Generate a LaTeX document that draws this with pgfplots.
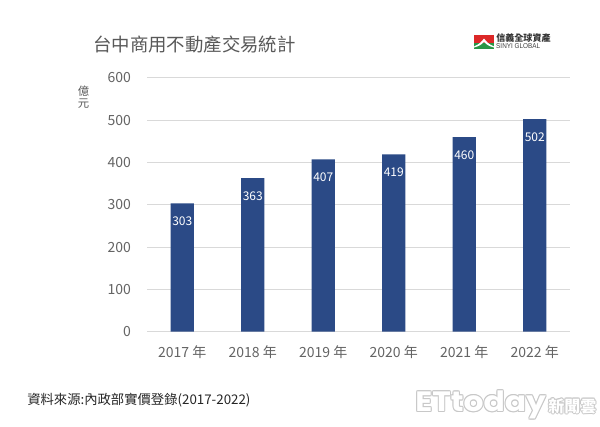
\documentclass[border=0pt]{standalone}
\usepackage{fontspec}
\setmainfont{Noto Sans CJK TC}
\newfontfamily\latinfont{Liberation Sans}
\newfontfamily\etfont{Poppins}[UprightFont=* Bold]
\usepackage{pgfplots}
\pgfplotsset{compat=1.18}
\definecolor{barblue}{RGB}{43,74,134}
\definecolor{txtgray}{RGB}{89,89,89}
\definecolor{tickgray}{RGB}{100,100,100}
\definecolor{gridgray}{RGB}{217,217,217}
\definecolor{logored}{RGB}{220,40,40}
\definecolor{logogreen}{RGB}{40,150,70}
\definecolor{wmgray}{RGB}{200,200,200}
\begin{document}
\begin{tikzpicture}[x=0.75pt,y=-0.75pt]
\path[use as bounding box, fill=white] (0,0) rectangle (600,426);
\begin{axis}[
  at={(110.25pt,-248.8pt)}, anchor=south west,
  scale only axis, width=317.25pt, height=190.5pt,
  xmin=-0.5, xmax=5.5, ymin=0, ymax=600,
  ytick={0,100,200,300,400,500,600},
  xtick=data,
  xticklabels={2017 年,2018 年,2019 年,2020 年,2021 年,2022 年},
  major tick length=0pt,
  axis line style={draw=none},
  ymajorgrids, grid style={gridgray, line width=0.8pt},
  /pgf/number format/assume math mode=true,
  tick label style={font=\fontsize{10.5}{12}\selectfont, text=tickgray},
  yticklabel style={xshift=-8.5pt},
  xticklabel style={yshift=-7pt},
  ybar, bar width=17.5pt,
  nodes near coords,
  every node near coord/.append style={font=\fontsize{9}{10}\selectfont, text=white, anchor=center, yshift=-13.5pt},
  clip=false,
]
\addplot[fill=barblue, draw=none] coordinates {(0,303) (1,363) (2,407) (3,419) (4,460) (5,502)};
\end{axis}
% y label stacked
\node[text=txtgray, font=\fontsize{8.5}{10}\selectfont, align=center, inner sep=0pt] at (83.5,97) {億\\[-1pt]元};
% title
\node[anchor=west, text=txtgray, font=\fontsize{13.8}{16}\selectfont, inner sep=0pt] at (93,45) {台中商用不動產交易統計};
% logo
\fill[logored] (474,35) rectangle (494,43);
\fill[logogreen] (474,43) rectangle (494,49);
\fill[white] (474,46.5) .. controls (480,44) and (482,41) .. (484,38.5) .. controls (486,41) and (488,44) .. (494,46.5) -- (494,47.5) .. controls (488,46) and (486,44) .. (484,42) .. controls (482,44) and (480,46) .. (474,47.5) -- cycle;
\node[anchor=west, inner sep=0pt, text=black!80, font=\fontsize{6.8}{7}\selectfont\bfseries] at (496,38.5) {信義全球資產};
\node[anchor=west, inner sep=0pt, text=black!75, font=\latinfont\fontsize{5.3}{6}\selectfont, xscale=0.9] at (496,46) {SINYI GLOBAL};
% source
\node[anchor=west, inner sep=0pt, text=black!85, font=\fontsize{10}{12}\selectfont] at (27,400) {資料來源:內政部實價登錄(2017-2022)};
% watermark
\foreach \dx/\dy in {-1/0,1/0,0/-1,0/1,-0.7/-0.7,0.7/0.7,-0.7/0.7,0.7/-0.7}{
  \node[anchor=west, inner sep=0pt, text=wmgray, font=\etfont\fontsize{21}{22}\selectfont, xscale=1.12] at (415+\dx,405+\dy) {ETtoday};
  \node[anchor=west, inner sep=0pt, text=wmgray, font=\fontsize{12}{12}\selectfont\bfseries] at (548+\dx,406+\dy) {新聞雲};
}
\node[anchor=west, inner sep=0pt, text=white, font=\etfont\fontsize{21}{22}\selectfont, xscale=1.12] at (415,405) {ETtoday};
\node[anchor=west, inner sep=0pt, text=white, font=\fontsize{12}{12}\selectfont\bfseries] at (548,406) {新聞雲};
\end{tikzpicture}
\end{document}
